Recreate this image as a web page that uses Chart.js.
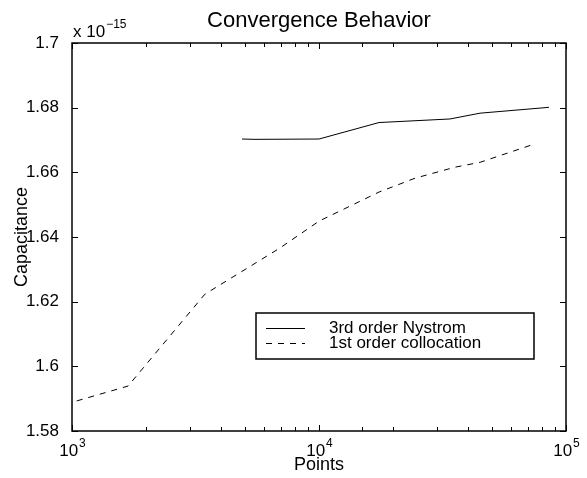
<!DOCTYPE html>
<html>
<head>
<meta charset="utf-8">
<script src="https://cdn.jsdelivr.net/npm/chart.js@4.4.1/dist/chart.umd.min.js"></script>
<style>
html, body { margin: 0; padding: 0; background: #fff; }
canvas { display: block; }
</style>
</head>
<body>
<canvas id="chart" width="587" height="478"></canvas>
<script>
// capacitance values are in units of 1e-15 (see the "x 10^-15" label)
const nystromPoints = [4880, 5510, 10000, 17500, 33900, 44900, 85300];
const nystromCap = [1.6703, 1.6702, 1.6703, 1.6754, 1.6765, 1.6783, 1.6801];
const collocPoints = [1045, 1686, 3450, 6950, 10000, 17500, 24500, 35600, 44900, 74100];
const collocCap = [1.5893, 1.5939, 1.6223, 1.6366, 1.6449, 1.6539, 1.6582, 1.6616, 1.6631, 1.6687];
const seriesNames = ['3rd order Nystrom', '1st order collocation'];
const xTickExps = [3, 4, 5];
const yTicks = [1.58, 1.6, 1.62, 1.64, 1.66, 1.68, 1.7];

const FONT = '"Liberation Sans", Arial, Helvetica, sans-serif';

function toXY(xs, ys) {
	return xs.map((x, i) => ({x: x, y: ys[i]}));
}

// draws the matlab style box, inward ticks, log labels, titles and legend
const matlabLook = {
	id: 'matlabLook',
	afterDraw(chart) {
		const c = chart.ctx;
		const a = chart.chartArea;
		const xs = chart.scales.x;
		const ys = chart.scales.y;
		c.save();
		c.strokeStyle = '#000';
		c.fillStyle = '#000';
		c.lineWidth = 1.5;
		c.strokeRect(a.left, a.top, a.right - a.left, a.bottom - a.top);

		c.lineWidth = 1;
		c.beginPath();
		xs.ticks.forEach(t => {
			const px = Math.round(xs.getPixelForValue(t.value)) + 0.5;
			const major = Math.abs(Math.log10(t.value) - Math.round(Math.log10(t.value))) < 1e-9;
			const len = major ? 6 : 4;
			c.moveTo(px, a.bottom); c.lineTo(px, a.bottom - len);
			c.moveTo(px, a.top); c.lineTo(px, a.top + len);
		});
		ys.ticks.forEach(t => {
			const py = Math.round(ys.getPixelForValue(t.value)) + 0.5;
			c.moveTo(a.left, py); c.lineTo(a.left + 6, py);
			c.moveTo(a.right, py); c.lineTo(a.right - 6, py);
		});
		c.stroke();

		// x tick labels 10^n
		c.textBaseline = 'alphabetic';
		c.textAlign = 'left';
		xTickExps.forEach(e => {
			const px = xs.getPixelForValue(Math.pow(10, e));
			c.font = '17px ' + FONT;
			const w1 = c.measureText('10').width;
			c.font = '12px ' + FONT;
			const w2 = c.measureText(String(e)).width;
			const x0 = px - (w1 + w2) / 2;
			c.font = '17px ' + FONT;
			c.fillText('10', x0, 456);
			c.font = '12px ' + FONT;
			c.fillText(String(e), x0 + w1 + 1, 447);
		});

		// exponent label
		c.font = '17px ' + FONT;
		c.fillText('x 10', a.left + 1, 37);
		const wx = c.measureText('x 10').width;
		c.font = '12px ' + FONT;
		c.fillText('\u221215', a.left + 1 + wx + 1, 28);

		// title and axis titles
		c.textAlign = 'center';
		c.font = '22px ' + FONT;
		c.fillText('Convergence Behavior', (a.left + a.right) / 2, 27);
		c.font = '18px ' + FONT;
		c.fillText('Points', (a.left + a.right) / 2, 470);
		c.save();
		c.translate(27, (a.top + a.bottom) / 2);
		c.rotate(-Math.PI / 2);
		c.fillText('Capacitance', 0, 0);
		c.restore();

		// legend
		const lx = 256, ly = 313, lw = 278, lh = 46;
		c.fillStyle = '#fff';
		c.fillRect(lx, ly, lw, lh);
		c.lineWidth = 1.5;
		c.strokeStyle = '#000';
		c.strokeRect(lx, ly, lw, lh);
		c.lineWidth = 1;
		c.fillStyle = '#000';
		c.textAlign = 'left';
		c.textBaseline = 'middle';
		c.font = '17px ' + FONT;
		chart.data.datasets.forEach((ds, i) => {
			const yy = ly + 15 + i * 15;
			c.setLineDash(ds.borderDash || []);
			c.beginPath();
			c.moveTo(lx + 10, yy + 0.5);
			c.lineTo(lx + 49, yy + 0.5);
			c.stroke();
			c.setLineDash([]);
			c.fillText(ds.label, lx + 73, yy);
		});
		c.restore();
	}
};

new Chart(document.getElementById('chart').getContext('2d'), {
	type: 'line',
	data: {
		datasets: [{
			label: seriesNames[0],
			data: toXY(nystromPoints, nystromCap),
			borderColor: '#000',
			borderWidth: 1,
			pointRadius: 0,
			tension: 0
		}, {
			label: seriesNames[1],
			data: toXY(collocPoints, collocCap),
			borderColor: '#000',
			borderWidth: 1,
			borderDash: [6, 6],
			pointRadius: 0,
			tension: 0
		}]
	},
	options: {
		responsive: false,
		animation: false,
		layout: { padding: { top: 43, right: 21, left: 0, bottom: 0 } },
		plugins: {
			legend: { display: false },
			tooltip: { enabled: false },
			title: { display: false }
		},
		scales: {
			x: {
				type: 'logarithmic',
				min: 1000,
				max: 100000,
				grid: { display: false },
				border: { display: false },
				ticks: { display: false },
				afterFit(s) { s.height = 47; }
			},
			y: {
				type: 'linear',
				min: 1.58,
				max: 1.7,
				grid: { display: false },
				border: { display: false },
				afterBuildTicks(s) { s.ticks = yTicks.map(v => ({value: v})); },
				ticks: {
					color: '#000',
					padding: 5,
					font: { family: FONT, size: 17 },
					callback: v => String(+v.toFixed(2))
				},
				afterFit(s) { s.width = 72; }
			}
		}
	},
	plugins: [matlabLook]
});
</script>
</body>
</html>
